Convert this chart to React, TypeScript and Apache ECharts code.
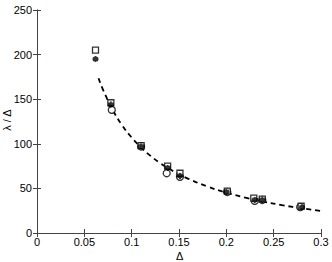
import React, { useEffect, useRef } from "react";
import * as echarts from "echarts";

const xTicks = [0, 0.05, 0.1, 0.15, 0.2, 0.25, 0.3];
const yTicks = [0, 50, 100, 150, 200, 250];
const xName = "Δ";
const yName = "λ / Δ";

const squares: [number, number][] = [
  [0.0618, 205], [0.078, 146], [0.11, 98], [0.138, 75], [0.151, 67],
  [0.201, 47], [0.229, 39], [0.238, 38], [0.279, 30],
];
const circles: [number, number][] = [
  [0.079, 138], [0.11, 97], [0.137, 67], [0.151, 63], [0.201, 46],
  [0.23, 36], [0.238, 37], [0.278, 29],
];
const asterisks: [number, number][] = [
  [0.0618, 195], [0.078, 144], [0.11, 97], [0.138, 73], [0.151, 64],
  [0.2, 46], [0.23, 37], [0.238, 37], [0.28, 29],
];
const fitX = [0.065, 0.07, 0.08, 0.09, 0.1, 0.11, 0.12, 0.13, 0.14, 0.15, 0.16, 0.18, 0.2, 0.22, 0.24, 0.26, 0.28, 0.3];
const fitY = [173.5, 160, 138, 120.7, 107, 95.8, 86.4, 78.5, 71.7, 65.8, 60.7, 52.1, 45.3, 39.6, 35, 31, 27.6, 24.7];

const ASTERISK = "path://M5,0 L5,10 M0.7,2.5 L9.3,7.5 M0.7,7.5 L9.3,2.5 M0,5 L10,5";

export default function App() {
  const ref = useRef<HTMLDivElement>(null);
  useEffect(() => {
    if (!ref.current) return;
    const chart = echarts.init(ref.current, null, { renderer: "svg" });
    const font = "'Liberation Sans', Arial, sans-serif";
    const mkLine = () => ({ show: true, lineStyle: { color: "#444", width: 1 } });
    const mkTick = () => ({ show: true, inside: true, length: 4, lineStyle: { color: "#444", width: 1 } });
    chart.setOption({
      animation: false,
      backgroundColor: "#fff",
      grid: { left: 37, top: 10, right: 11, bottom: 29, containLabel: false, outerBoundsMode: "none" },
      xAxis: [
        {
          type: "value", min: 0, max: 0.3, interval: 0.05,
          axisLine: mkLine(), axisTick: mkTick(), splitLine: { show: false },
          axisLabel: { color: "#000", fontSize: 11, fontFamily: font, margin: 3,
            formatter: (v: number) => String(xTicks.find((t) => Math.abs(t - v) < 1e-9) ?? v) },
        },
        {
          type: "value", position: "top", min: 0, max: 0.3, interval: 0.05,
          axisLine: mkLine(), axisTick: mkTick(), axisLabel: { show: false }, splitLine: { show: false },
        },
      ],
      yAxis: [
        {
          type: "value", min: 0, max: 250, interval: 50,
          axisLine: mkLine(), axisTick: mkTick(), splitLine: { show: false },
          axisLabel: { color: "#000", fontSize: 11, fontFamily: font, margin: 5,
            formatter: (v: number) => String(yTicks.find((t) => t === v) ?? v) },
        },
        {
          type: "value", position: "right", min: 0, max: 250, interval: 50,
          axisLine: mkLine(), axisTick: mkTick(), axisLabel: { show: false }, splitLine: { show: false },
        },
      ],
      graphic: [
        {
          type: "text", left: 176, top: 250,
          style: { text: xName, fill: "#000", fontSize: 11, fontFamily: font },
        },
        {
          type: "text", x: 1, y: 120, rotation: Math.PI / 2, originX: 0, originY: 0,
          style: { text: yName, fill: "#000", fontSize: 11, fontFamily: font, textAlign: "center", textVerticalAlign: "top" },
        },
      ],
      series: [
        {
          type: "line", data: fitX.map((x, i) => [x, fitY[i]]), smooth: true,
          showSymbol: false, symbol: "none",
          lineStyle: { color: "#000", width: 1.8, type: [5, 4] },
          z: 1,
        },
        {
          type: "scatter", data: squares, symbol: "rect", symbolSize: 6,
          itemStyle: { color: "#fff", borderColor: "#000", borderWidth: 1.3 }, z: 3,
        },
        {
          type: "scatter", data: circles, symbol: "circle", symbolSize: 7,
          itemStyle: { color: "#fff", borderColor: "#000", borderWidth: 1.3 }, z: 2,
        },
        {
          type: "scatter", data: asterisks, symbol: ASTERISK, symbolSize: 6,
          itemStyle: { color: "none", borderColor: "#000", borderWidth: 2 }, z: 4,
        },
      ],
    });
    return () => chart.dispose();
  }, []);
  return (
    <div
      ref={ref}
      style={{ position: "fixed", left: 0, top: 0, width: 332, height: 262, background: "#fff" }}
    />
  );
}
